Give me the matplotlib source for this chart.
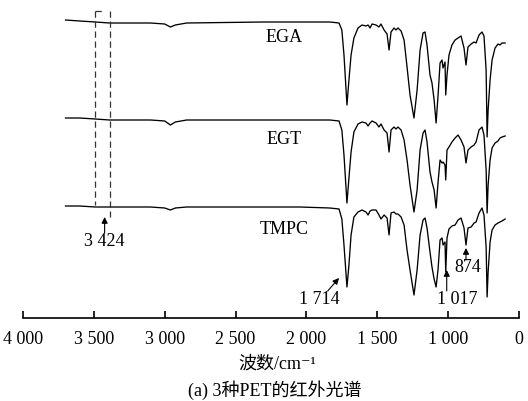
import matplotlib.pyplot as plt

# wavenumbers (cm-1) of the points
wavenumber = [3700, 3600, 3490, 3390, 3100, 3000, 2960, 2925, 2845, 2300, 2045, 1835,
              1770, 1750, 1735, 1714, 1700, 1685, 1665, 1636, 1608, 1580, 1565, 1551,
              1537, 1509, 1488, 1474, 1452, 1431, 1417, 1403, 1382, 1368, 1354, 1332,
              1311, 1290, 1269, 1241, 1219, 1198, 1177, 1163, 1149, 1128, 1114, 1099,
              1085, 1071, 1057, 1043, 1036, 1022, 1017, 1008, 994, 973, 951, 930,
              909, 888, 874, 860, 838, 817, 803, 782, 761, 747, 732, 725,
              718, 704, 690, 669, 648, 634, 620, 598]

# band depth below each trace's baseline (a.u.)
ega = [-3, -2, -1, 0, 0, 1, 4, 2, 0, -1, -1, -1,
       0, 7, 32, 82, 57, 32, 15, 5, 2, 3, 2, 5,
       1, 2, 4, 1, 7, 11, 27, 9, 5, 7, 5, 8,
       17, 44, 72, 95, 67, 27, 10, 9, 22, 52, 60, 77,
       100, 72, 40, 37, 45, 39, 72, 52, 32, 22, 17, 15,
       13, 25, 42, 24, 21, 19, 20, 12, 9, 13, 47, 114,
       87, 57, 37, 25, 21, 22, 20, 20]
egt = [-2, -2, -1, 0, 0, 1, 5, 2, 0, 0, 0, 0,
       1, 10, 35, 83, 58, 32, 12, 4, 2, 3, 6, 3,
       1, 3, 7, 4, 10, 13, 32, 10, 7, 9, 7, 10,
       20, 40, 65, 92, 70, 30, 13, 10, 22, 52, 62, 70,
       88, 62, 40, 43, 42, 45, 60, 30, 27, 22, 18, 15,
       20, 27, 43, 30, 27, 25, 22, 10, 7, 15, 50, 93,
       65, 40, 28, 23, 21, 18, 17, 16]
tmpc = [-1, -1, 0, 0, 0, 1, 3, 1, 0, 0, 0, 1,
        2, 12, 38, 80, 58, 28, 10, 5, 3, 5, 8, 4,
        3, 3, 8, 12, 8, 11, 28, 6, 5, 7, 7, 10,
        18, 43, 63, 88, 63, 28, 13, 11, 21, 45, 60, 72,
        80, 62, 33, 31, 38, 35, 65, 31, 22, 19, 18, 13,
        11, 21, 38, 21, 20, 16, 15, 6, 1, 8, 40, 90,
        65, 35, 23, 18, 16, 15, 14, 12]

series = [("EGA", ega), ("EGT", egt), ("TMPC", tmpc)]
tick_values = [4000, 3500, 3000, 2500, 2000, 1500, 1000, 500]
tick_labels = ["4 000", "3 500", "3 000", "2 500", "2 000", "1 500", "1 000", "0"]

plt.rcParams['font.family'] = ['Liberation Serif', 'Noto Sans CJK SC', 'DejaVu Serif']

W, H = 528, 401
fig = plt.figure(figsize=(W / 100, H / 100), dpi=100)
ax = fig.add_axes([23 / W, 1 - 318 / H, 496 / W, 313 / H])

baselines = [295, 198, 111]
label_y = [281, 178, 88]
for (name, depth), base, ly in zip(series, baselines, label_y):
    ax.plot(wavenumber, [base - d for d in depth], color="black", lw=0.95)
    ax.text(2160, ly, name, ha="center", va="center", fontsize=13)

# dashed box around 3 424
box = dict(color="#333333", lw=0.9, ls=(0, (5, 3)))
ax.plot([3490, 3490], [307, 113], **box)
ax.plot([3385, 3385], [307, 101], **box)
ax.plot([3490, 3440], [307, 307], **box)

arrow = dict(arrowstyle="-|>", mutation_scale=9, lw=0.8, color="black",
             shrinkA=0, shrinkB=0)
ax.annotate("", xy=(3424, 101), xytext=(3424, 85), arrowprops=arrow)
ax.text(3424, 77, "3 424", ha="center", va="center", fontsize=13)
ax.annotate("", xy=(1770, 40), xytext=(1850, 27), arrowprops=arrow)
ax.text(1911, 18, "1 714", ha="center", va="center", fontsize=13)
ax.annotate("", xy=(1010, 48), xytext=(1010, 27), arrowprops=arrow)
ax.text(937, 18, "1 017", ha="center", va="center", fontsize=13)
ax.annotate("", xy=(874, 70), xytext=(874, 58), arrowprops=arrow)
ax.text(865, 51, "874", ha="center", va="center", fontsize=13)

ax.set_xlim(4000, 500)
ax.set_ylim(0, 313)
for side in ["left", "right", "top"]:
    ax.spines[side].set_visible(False)
ax.spines["bottom"].set_linewidth(1.2)
ax.set_yticks([])
ax.set_xticks(tick_values)
ax.set_xticklabels(tick_labels, fontsize=13)
ax.tick_params(axis="x", direction="in", length=5, width=1.2, pad=9)

fig.text(277 / W, 1 - 364 / H, "波数/cm⁻¹", ha="center", va="center", fontsize=13)
fig.text(275 / W, 1 - 390 / H, "(a) 3种PET的红外光谱", ha="center", va="center", fontsize=13)

fig.savefig("out.png", dpi=100)
